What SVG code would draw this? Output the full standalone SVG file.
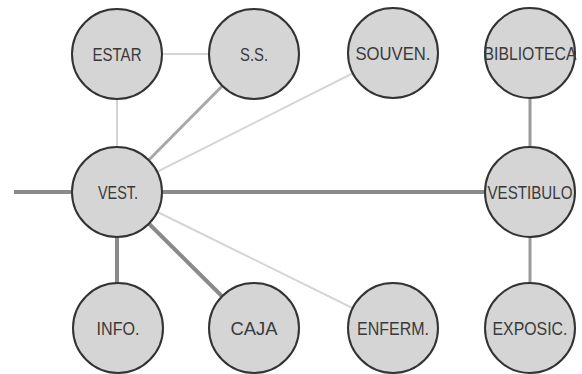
<svg xmlns="http://www.w3.org/2000/svg" width="582" height="374" viewBox="0 0 582 374">
<style>
.n circle{fill:#d5d5d5;stroke:#333;stroke-width:2}
.n text{font-family:"Liberation Sans",Arial,sans-serif;font-size:18px;fill:#3a3a3a;text-anchor:middle}
.c line{stroke-linecap:butt}
.thin{stroke:#d4d4d4;stroke-width:2}
.mid{stroke:#a8a8a8;stroke-width:3}
.thick{stroke:#8a8a8a;stroke-width:4}
.v{stroke:#9a9a9a;stroke-width:3}
</style>
<rect width="582" height="374" fill="#ffffff"/>
<g id="connectors" class="c">
<line class="thin" x1="117" y1="54" x2="254" y2="54"/>
<line class="thin" x1="117" y1="54" x2="117" y2="192"/>
<line class="mid" x1="254" y1="54" x2="117" y2="192"/>
<line class="thin" x1="393" y1="53" x2="117" y2="192"/>
<line class="thick" x1="14" y1="192" x2="530" y2="192"/>
<line class="thick" x1="117" y1="192" x2="117" y2="328"/>
<line class="thick" x1="117" y1="192" x2="254" y2="328"/>
<line class="thin" x1="117" y1="192" x2="393" y2="328"/>
<line class="v" x1="530" y1="53" x2="530" y2="192"/>
<line class="v" x1="530" y1="192" x2="530" y2="328"/>
</g>
<g id="estar" class="n"><circle cx="117" cy="54" r="45"/><text x="117" y="61" textLength="49" lengthAdjust="spacingAndGlyphs">ESTAR</text></g>
<g id="ss" class="n"><circle cx="254" cy="54" r="45"/><text x="254" y="61" textLength="28" lengthAdjust="spacingAndGlyphs">S.S.</text></g>
<g id="souven" class="n"><circle cx="393" cy="53" r="45"/><text x="393" y="60" textLength="75" lengthAdjust="spacingAndGlyphs">SOUVEN.</text></g>
<g id="biblioteca" class="n"><circle cx="530" cy="53" r="45"/><text x="530" y="60" textLength="93" lengthAdjust="spacingAndGlyphs">BIBLIOTECA</text></g>
<g id="vest" class="n"><circle cx="117" cy="192" r="45"/><text x="118" y="199" textLength="40" lengthAdjust="spacingAndGlyphs">VEST.</text></g>
<g id="vestibulo" class="n"><circle cx="530" cy="192" r="45"/><text x="530" y="199" textLength="85" lengthAdjust="spacingAndGlyphs">VESTIBULO</text></g>
<g id="info" class="n"><circle cx="118" cy="328" r="45"/><text x="118" y="335" textLength="43" lengthAdjust="spacingAndGlyphs">INFO.</text></g>
<g id="caja" class="n"><circle cx="254" cy="328" r="45"/><text x="254" y="335" textLength="47" lengthAdjust="spacingAndGlyphs">CAJA</text></g>
<g id="enferm" class="n"><circle cx="393" cy="328" r="45"/><text x="393" y="335" textLength="72" lengthAdjust="spacingAndGlyphs">ENFERM.</text></g>
<g id="exposic" class="n"><circle cx="530" cy="328" r="45"/><text x="530" y="335" textLength="75" lengthAdjust="spacingAndGlyphs">EXPOSIC.</text></g>
</svg>
